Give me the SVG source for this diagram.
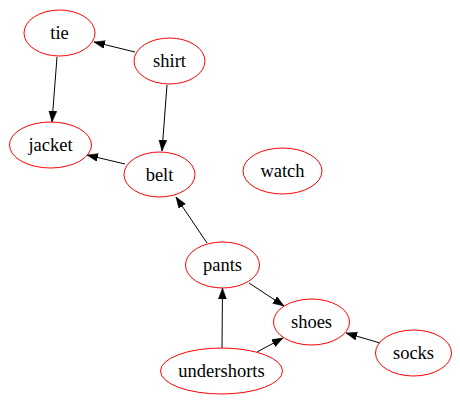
<svg xmlns="http://www.w3.org/2000/svg" width="460" height="404" viewBox="0 0 460 404">
<style>
.node ellipse{fill:none;stroke:#ff0000;stroke-width:1}
.node text{font-family:"Liberation Serif","Times New Roman",serif;font-size:18.5px;fill:#000;text-anchor:middle}
.edges line{stroke:#000;stroke-width:1;marker-end:url(#ah)}
</style>
<defs>
<marker id="ah" markerWidth="11" markerHeight="9" refX="11" refY="4" orient="auto" markerUnits="userSpaceOnUse">
<path d="M0,0 L11,4 L0,8 z" fill="#000" stroke="#000" stroke-width="0.5"/>
</marker>
</defs>
<rect width="460" height="404" fill="#fff"/>
<g class="edges">
<line x1="135" y1="52" x2="94" y2="42"/>
<line x1="57" y1="57" x2="52" y2="122"/>
<line x1="167" y1="85" x2="162" y2="151"/>
<line x1="125" y1="164" x2="87" y2="155"/>
<line x1="207" y1="243" x2="176" y2="197"/>
<line x1="249" y1="283" x2="284" y2="306"/>
<line x1="222" y1="348" x2="222.5" y2="288"/>
<line x1="257" y1="352" x2="283" y2="338"/>
<line x1="380" y1="343" x2="346" y2="333"/>
</g>
<g id="tie" class="node"><ellipse cx="59.5" cy="33" rx="35.5" ry="23"/><text x="59.5" y="39">tie</text></g>
<g id="shirt" class="node"><ellipse cx="169.5" cy="61" rx="35.5" ry="23"/><text x="169.5" y="67">shirt</text></g>
<g id="jacket" class="node"><ellipse cx="50.5" cy="145" rx="41" ry="23"/><text x="50.5" y="151">jacket</text></g>
<g id="belt" class="node"><ellipse cx="159.5" cy="174.5" rx="35.5" ry="22.5"/><text x="159.5" y="180.5">belt</text></g>
<g id="watch" class="node"><ellipse cx="282.5" cy="171" rx="39.5" ry="23"/><text x="282.5" y="177">watch</text></g>
<g id="pants" class="node"><ellipse cx="222.5" cy="265" rx="37" ry="23"/><text x="222.5" y="271">pants</text></g>
<g id="shoes" class="node"><ellipse cx="311.5" cy="322" rx="38" ry="23"/><text x="311.5" y="328">shoes</text></g>
<g id="socks" class="node"><ellipse cx="413.5" cy="353" rx="38" ry="23"/><text x="413.5" y="359">socks</text></g>
<g id="undershorts" class="node"><ellipse cx="221.5" cy="371" rx="61" ry="23"/><text x="221.5" y="377">undershorts</text></g>
</svg>
